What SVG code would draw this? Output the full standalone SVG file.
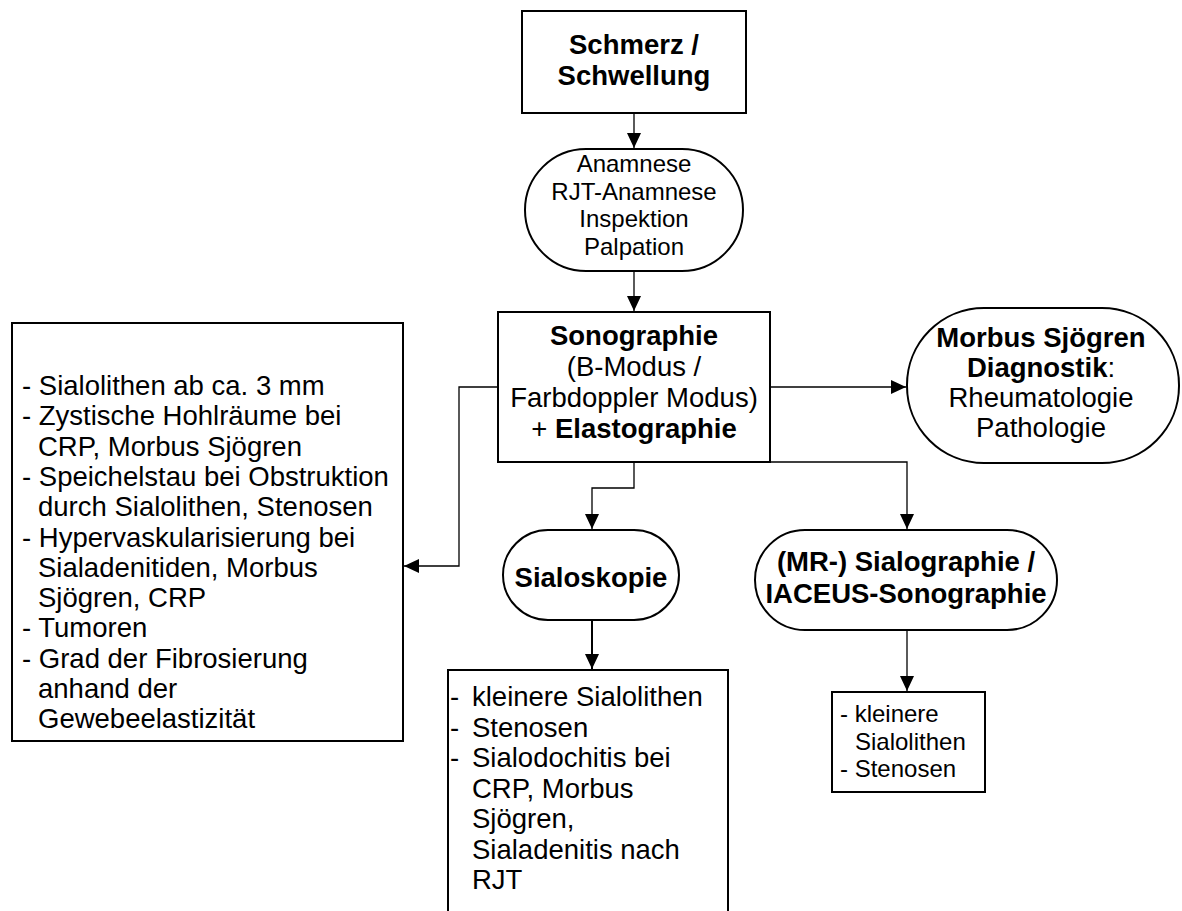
<svg xmlns="http://www.w3.org/2000/svg" width="1182" height="911" viewBox="0 0 1182 911">
<defs>
<style>
.box{fill:#fff;stroke:#000;stroke-width:2}
.t{font-family:"Liberation Sans",Arial,sans-serif;font-size:27.5px;fill:#000}
.s{font-family:"Liberation Sans",Arial,sans-serif;font-size:24px;fill:#000}
.c{text-anchor:middle}
.b{font-weight:bold}
.con{fill:none;stroke:#000;stroke-width:1.3}
</style>
<marker id="ah" markerUnits="userSpaceOnUse" markerWidth="16" markerHeight="14" refX="15" refY="7" orient="auto">
<path d="M0,0 L15,7 L0,14 Z" fill="#000"/>
</marker>
</defs>
<rect width="1182" height="911" fill="#fff"/>
<g id="connectors">
<path class="con" d="M634,113 V148" marker-end="url(#ah)"/>
<path class="con" d="M634,271 V311" marker-end="url(#ah)"/>
<path class="con" d="M498,387 H459 V566 H404" marker-end="url(#ah)"/>
<path class="con" d="M770,387 H906" marker-end="url(#ah)"/>
<path class="con" d="M634,462 V488 H592 V529" marker-end="url(#ah)"/>
<path class="con" d="M770,462 H907 V529" marker-end="url(#ah)"/>
<path class="con" d="M592,620 V669" style="stroke-width:2" marker-end="url(#ah)"/>
<path class="con" d="M907,630 V691" marker-end="url(#ah)"/>
</g>
<g id="schmerz">
<rect class="box" x="522" y="11" width="224" height="102"/>
<text class="t c b" x="634" y="54">Schmerz /</text>
<text class="t c b" x="634" y="85">Schwellung</text>
</g>
<g id="anamnese">
<rect class="box" x="525" y="149" width="218" height="122" rx="61" ry="61"/>
<text class="s c" x="634" y="172">Anamnese</text>
<text class="s c" x="634" y="199.5">RJT-Anamnese</text>
<text class="s c" x="634" y="227">Inspektion</text>
<text class="s c" x="634" y="254.5">Palpation</text>
</g>
<g id="sonographie">
<rect class="box" x="498" y="312" width="272" height="150"/>
<text class="t c b" x="634" y="345">Sonographie</text>
<text class="t c" x="634" y="376">(B-Modus /</text>
<text class="t c" x="634" y="407">Farbdoppler Modus)</text>
<text class="t c" x="634" y="438">+ <tspan class="b">Elastographie</tspan></text>
</g>
<g id="morbus">
<rect class="box" x="907" y="308" width="272" height="155" rx="77" ry="77"/>
<text class="t c b" x="1041" y="347">Morbus Sjögren</text>
<text class="t c" x="1041" y="377"><tspan class="b">Diagnostik</tspan>:</text>
<text class="t c" x="1041" y="407">Rheumatologie</text>
<text class="t c" x="1041" y="437">Pathologie</text>
</g>
<g id="befunde-sono">
<rect class="box" x="12" y="323" width="391" height="418"/>
<text class="t" x="22" y="395">- Sialolithen ab ca. 3 mm</text>
<text class="t" x="22" y="425.3">- Zystische Hohlräume bei</text>
<text class="t" x="38" y="455.6">CRP, Morbus Sjögren</text>
<text class="t" x="22" y="485.9">- Speichelstau bei Obstruktion</text>
<text class="t" x="38" y="516.2">durch Sialolithen, Stenosen</text>
<text class="t" x="22" y="546.5">- Hypervaskularisierung bei</text>
<text class="t" x="38" y="576.8">Sialadenitiden, Morbus</text>
<text class="t" x="38" y="607.1">Sjögren, CRP</text>
<text class="t" x="22" y="637.4">- Tumoren</text>
<text class="t" x="22" y="667.7">- Grad der Fibrosierung</text>
<text class="t" x="38" y="698">anhand der</text>
<text class="t" x="38" y="728.3">Gewebeelastizität</text>
</g>
<g id="sialoskopie">
<rect class="box" x="503" y="530" width="176" height="90" rx="45" ry="45"/>
<text class="t c b" x="591" y="587">Sialoskopie</text>
</g>
<g id="befunde-sialoskopie">
<rect class="box" x="448" y="670" width="280" height="250"/>
<text class="t" x="450" y="706">-<tspan x="472">kleinere Sialolithen</tspan></text>
<text class="t" x="450" y="736.5">-<tspan x="472">Stenosen</tspan></text>
<text class="t" x="450" y="767">-<tspan x="472">Sialodochitis bei</tspan></text>
<text class="t" x="472" y="797.5">CRP, Morbus</text>
<text class="t" x="472" y="828">Sjögren,</text>
<text class="t" x="472" y="858.5">Sialadenitis nach</text>
<text class="t" x="472" y="889">RJT</text>
</g>
<g id="sialographie">
<rect class="box" x="755" y="530" width="302" height="100" rx="50" ry="50"/>
<text class="t c b" x="906" y="571">(MR-) Sialographie /</text>
<text class="t c b" x="906" y="603">IACEUS-Sonographie</text>
</g>
<g id="befunde-sialographie">
<rect class="box" x="832" y="692" width="153" height="100"/>
<text class="s" x="840" y="722">- kleinere</text>
<text class="s" x="855" y="749.5">Sialolithen</text>
<text class="s" x="840" y="777">- Stenosen</text>
</g>
</svg>
